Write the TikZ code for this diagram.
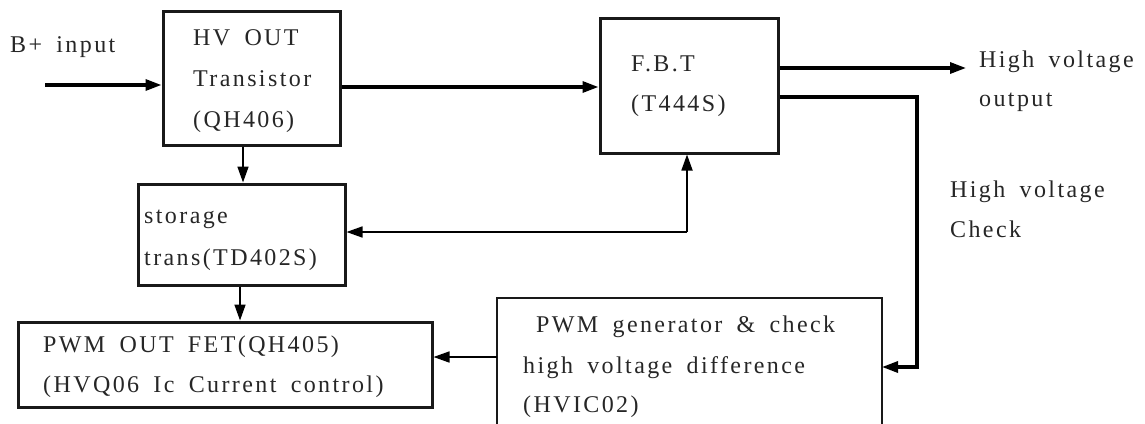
\documentclass[tikz,border=0pt]{standalone}
\usepackage{fontspec}
\setmainfont{Liberation Serif}[LetterSpace=10,WordSpace=1.7]
\usetikzlibrary{arrows.meta}
\tikzset{
  blk/.style={draw=black!90, line width=3pt, minimum width=#1, inner sep=0pt},
  lbl/.style={anchor=base west, inner sep=0pt, font=\fontsize{24}{28}\selectfont, text=black!85},
  thick arrow/.style={line width=3.2pt, -{Triangle[length=16pt,width=11pt]}},
  thin arrow/.style={line width=1.7pt, -{Triangle[length=16pt,width=11pt]}},
}
\begin{document}
\begin{tikzpicture}[x=1pt,y=-1pt]
\useasboundingbox (0,0) rectangle (1145,423);

% blocks
\node[blk=177pt, minimum height=134pt] (hv) at (251.5,78) {};
\node[blk=178pt, minimum height=135pt] (fbt) at (689,85.5) {};
\node[blk=207pt, minimum height=101pt] (st) at (241.5,234.5) {};
\node[blk=414pt, minimum height=85pt] (pwmout) at (225,364.5) {};
\coordinate (gTL) at (497,298);
\coordinate (gTR) at (882,298);
\coordinate (gBL) at (497,424);
\coordinate (gBR) at (882,424);
\draw[draw=black!90, line width=2.6pt] (gBL) -- (gTL) -- (gTR) -- (gBR);

% block texts
\node[lbl] (t1) at (193,45) {HV OUT};
\node[lbl] (t2) at (193,86) {Transistor};
\node[lbl] (t3) at (193,127) {(QH406)};
\node[lbl] (t4) at (631,71) {F.B.T};
\node[lbl] (t5) at (631,111) {(T444S)};
\node[lbl] (t6) at (144,223) {storage};
\node[lbl] (t7) at (144,265) {trans(TD402S)};
\node[lbl] (t8) at (43,352) {PWM OUT FET(QH405)};
\node[lbl] (t9) at (43,392) {(HVQ06 Ic Current control)};
\node[lbl] (t10) at (536,332) {PWM generator \& check};
\node[lbl] (t11) at (523,373) {high voltage difference};
\node[lbl] (t12) at (523,412) {(HVIC02)};

% free labels
\node[lbl] (bin) at (10,52) {B+ input};
\node[lbl] (hvo1) at (979,67) {High voltage};
\node[lbl] (hvo2) at (979,106) {output};
\node[lbl] (hvc1) at (950,197) {High voltage};
\node[lbl] (hvc2) at (950,237) {Check};

% connectors
\coordinate (in) at (45,85);
\coordinate (out) at (966,68);
\coordinate (fb1) at (917,97);
\coordinate (fb2) at (917,367);
\coordinate (tap) at (687,232);

\draw[thick arrow] (in) -- (in -| hv.west);
\draw[thick arrow] (hv.east |- 0,87) -- (fbt.west |- 0,87);
\draw[thick arrow] (fbt.east |- out) -- (out);
\draw[thick arrow] (fbt.east |- fb1) -- (fb1) -- (fb2) -- (gTR |- fb2);
\draw[thin arrow] (hv.south -| 243,0) -- (st.north -| 243,0);
\draw[thin arrow] (st.south -| 240,0) -- (pwmout.north -| 240,0);
\draw[thin arrow] (tap) -- (tap |- fbt.south);
\draw[thin arrow] (tap) -- (tap -| st.east);
\draw[thin arrow] (gTL |- 0,357) -- (pwmout.east |- 0,357);
\end{tikzpicture}
\end{document}
